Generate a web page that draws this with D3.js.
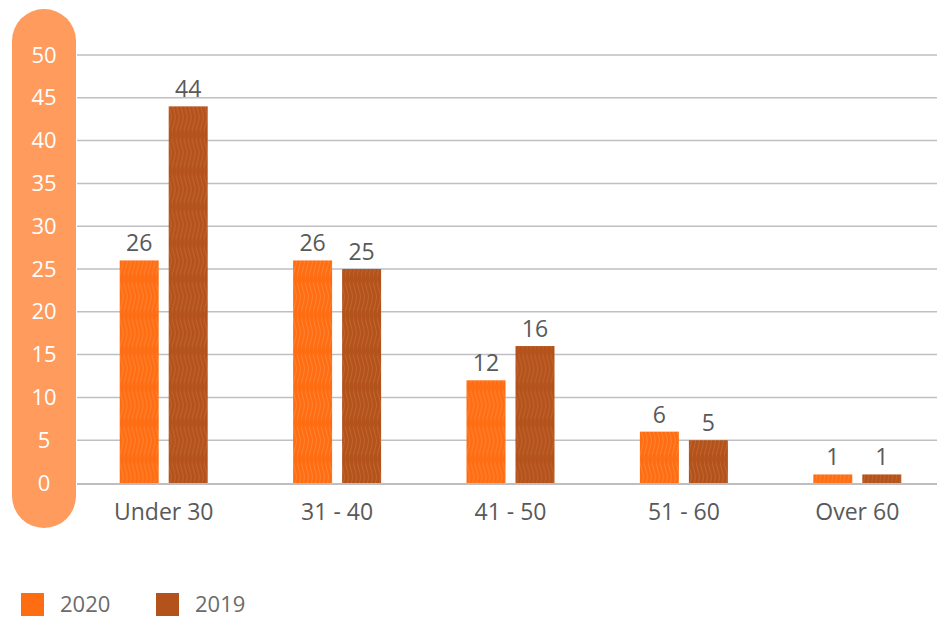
<!DOCTYPE html>
<html>
<head>
<meta charset="utf-8">
<script src="https://cdn.jsdelivr.net/npm/d3@7"></script>
<style>
  body { margin: 0; background: #fff; }
  svg { font-family: "Open Sans", sans-serif; }
</style>
</head>
<body>
<div id="chart"></div>
<script>
const categories = ["Under 30", "31 - 40", "41 - 50", "51 - 60", "Over 60"];
const seriesNames = ["2020", "2019"];
const values2020 = [26, 26, 12, 6, 1];
const values2019 = [44, 25, 16, 5, 1];
const yTicks = [0, 5, 10, 15, 20, 25, 30, 35, 40, 45, 50];

const colors = {"2020": "#ff6d12", "2019": "#b3521b"};
const light = {"2020": "#ff9a55", "2019": "#d07a45"};

const width = 937, height = 617;
const margin = {top: 55, right: -7, bottom: 134, left: 77};

const svg = d3.select("#chart")
  .append("svg")
  .attr("width", width)
  .attr("height", height);

// wavy wood-like texture for the bars
const defs = svg.append("defs");
seriesNames.forEach(name => {
  const p = defs.append("pattern")
    .attr("id", "wave" + name)
    .attr("patternUnits", "userSpaceOnUse")
    .attr("width", 4)
    .attr("height", 36);
  p.append("rect").attr("width", 4).attr("height", 36).attr("fill", colors[name]);
  p.append("path")
    .attr("d", "M1.5,0 C4,9 4,9 1.5,18 C-1,27 -1,27 1.5,36")
    .attr("fill", "none")
    .attr("stroke", light[name])
    .attr("stroke-width", 0.7)
    .attr("opacity", 0.75);
});

const data = categories.map((c, i) => ({category: c, "2020": values2020[i], "2019": values2019[i]}));

const x = d3.scaleBand()
  .domain(categories)
  .range([margin.left, width - margin.right]);

const y = d3.scaleLinear()
  .domain([0, 50])
  .range([height - margin.bottom, margin.top]);

const barW = 39, gap = 10;
const xs = d3.scaleOrdinal()
  .domain(seriesNames)
  .range([-(gap / 2 + barW), gap / 2]);

// orange pill behind the y axis labels
svg.append("rect")
  .attr("x", 12)
  .attr("y", 9)
  .attr("width", 64)
  .attr("height", 519)
  .attr("rx", 32)
  .attr("ry", 32)
  .attr("fill", "#fe9b5d");

// gridlines
svg.append("g")
  .selectAll("line")
  .data(yTicks.filter(d => d > 0))
  .join("line")
  .attr("x1", margin.left)
  .attr("x2", width)
  .attr("y1", d => y(d))
  .attr("y2", d => y(d))
  .attr("stroke", "#bfbfc4")
  .attr("stroke-width", 1.5);

// y axis labels
const yAxis = svg.append("g")
  .attr("transform", `translate(44,0)`)
  .call(d3.axisLeft(y).tickValues(yTicks).tickSize(0).tickPadding(0));
yAxis.select(".domain").remove();
yAxis.selectAll("text")
  .attr("text-anchor", "middle")
  .attr("fill", "#ffffff")
  .style("font-size", "22px")
  .style("font-family", "'Open Sans', sans-serif");

// bars
const groups = svg.append("g")
  .selectAll("g")
  .data(data)
  .join("g")
  .attr("transform", d => `translate(${x(d.category) + x.bandwidth() / 2},0)`);

groups.selectAll("rect")
  .data(d => seriesNames.map(s => ({s, v: d[s]})))
  .join("rect")
  .attr("x", d => xs(d.s))
  .attr("width", barW)
  .attr("y", d => y(d.v))
  .attr("height", d => y(0) - y(d.v))
  .attr("fill", d => `url(#wave${d.s})`);

groups.selectAll("text")
  .data(d => seriesNames.map(s => ({s, v: d[s]})))
  .join("text")
  .attr("x", d => xs(d.s) + barW / 2)
  .attr("y", d => y(d.v) - 9)
  .attr("text-anchor", "middle")
  .attr("fill", "#595959")
  .style("font-size", "23px")
  .text(d => d.v);

// baseline
svg.append("line")
  .attr("x1", margin.left)
  .attr("x2", width)
  .attr("y1", y(0) + 1)
  .attr("y2", y(0) + 1)
  .attr("stroke", "#bdbdc2")
  .attr("stroke-width", 2);

// x axis
const xAxis = svg.append("g")
  .attr("transform", `translate(0,${y(0) + 37})`)
  .call(d3.axisBottom(x).tickSize(0).tickPadding(0));
xAxis.select(".domain").remove();
xAxis.selectAll("text")
  .attr("dy", 0)
  .attr("fill", "#595959")
  .style("font-size", "23px")
  .style("font-family", "'Open Sans', sans-serif");

// legend
const legend = svg.append("g")
  .selectAll("g")
  .data(seriesNames)
  .join("g")
  .attr("transform", (d, i) => `translate(${21 + i * 135},593)`);
legend.append("rect")
  .attr("width", 23)
  .attr("height", 23)
  .attr("fill", d => colors[d]);
legend.append("text")
  .attr("x", 39)
  .attr("y", 19)
  .attr("fill", "#6b6b6b")
  .style("font-size", "22px")
  .text(d => d);
</script>
</body>
</html>
